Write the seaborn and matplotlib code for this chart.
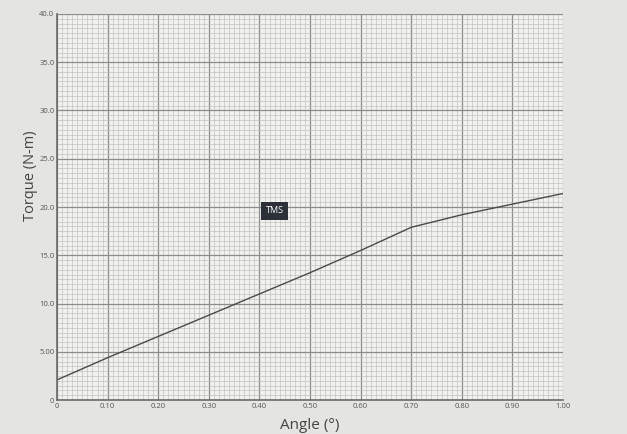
import numpy as np
import pandas as pd
import matplotlib
matplotlib.use("Agg")
import matplotlib.pyplot as plt
from matplotlib.ticker import MultipleLocator
import seaborn as sns

angle = [0.00, 0.10, 0.20, 0.30, 0.40, 0.50, 0.60, 0.70, 0.80, 0.90, 1.00]
torque = [2.1, 4.4, 6.6, 8.8, 11.0, 13.2, 15.5, 17.9, 19.2, 20.3, 21.4]
x_ticks = [0.0, 0.1, 0.2, 0.3, 0.4, 0.5, 0.6, 0.7, 0.8, 0.9, 1.0]
x_labels = ["0", "0.10", "0.20", "0.30", "0.40", "0.50", "0.60", "0.70", "0.80", "0.90", "1.00"]
y_ticks = [0, 5, 10, 15, 20, 25, 30, 35, 40]
y_labels = ["0", "5.00", "10.0", "15.0", "20.0", "25.0", "30.0", "35.0", "40.0"]

df = pd.DataFrame({"Angle": angle, "Torque": torque})

sns.set_style("white")
plt.rcParams["font.family"] = ["Open Sans", "DejaVu Sans"]

fig = plt.figure(figsize=(6.27, 4.34), dpi=100, facecolor="#e4e4e0")
ax = fig.add_axes([0.091, 0.078, 0.807, 0.89])
ax.set_facecolor("#f1f1ee")

sns.lineplot(data=df, x="Angle", y="Torque", ax=ax, color="#4a4a48", lw=1.0)

ax.set_xlim(0, 1.0)
ax.set_ylim(0, 40)
ax.set_xticks(x_ticks)
ax.set_xticklabels(x_labels, fontsize=5.5, color="#555555")
ax.set_yticks(y_ticks)
ax.set_yticklabels(y_labels, fontsize=5.5, color="#555555")
ax.xaxis.set_minor_locator(MultipleLocator(0.01))
ax.yaxis.set_minor_locator(MultipleLocator(0.5))
ax.grid(which="major", color="#8c8c8a", lw=0.9)
ax.grid(which="minor", color="#bdbdba", lw=0.45)
ax.tick_params(which="both", length=0, pad=2)
for side in ["top", "right"]:
    ax.spines[side].set_visible(False)
for side in ["left", "bottom"]:
    ax.spines[side].set_color("#6a6a68")
    ax.spines[side].set_linewidth(1.2)

ax.set_xlabel("Angle (°)", fontsize=11, color="#444444", labelpad=2)
ax.set_ylabel("Torque (N-m)", fontsize=10.5, color="#444444", labelpad=4)
ax.yaxis.set_label_coords(-0.038, 0.58)
ax.xaxis.set_label_coords(0.5, -0.045)

# tooltip box visible in the screenshot
ax.text(0.43, 19.6, "TMS", fontsize=6.5, color="white", ha="center", va="center",
        bbox=dict(boxstyle="square,pad=0.5", fc="#2c3038", ec="none"))

fig.savefig("out.png", dpi=100, facecolor=fig.get_facecolor())
